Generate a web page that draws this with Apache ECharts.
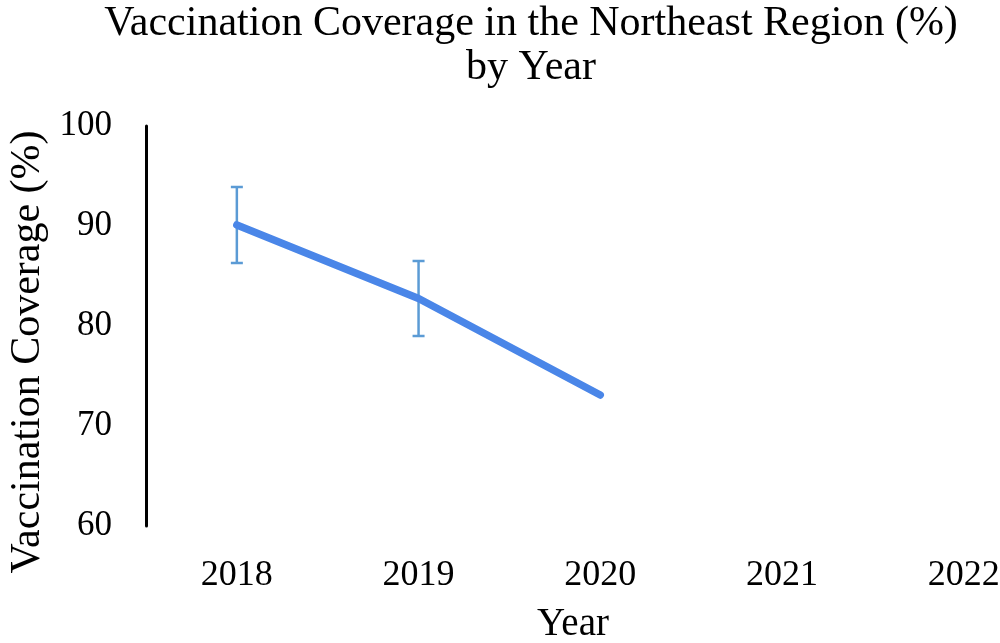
<!DOCTYPE html>
<html>
<head>
<meta charset="utf-8">
<script src="https://cdn.jsdelivr.net/npm/echarts@6/dist/echarts.min.js"></script>
<style>html,body{margin:0;padding:0;background:#fff}#c{width:1000px;height:643px}</style>
</head>
<body>
<div id="c"></div>
<script>
var years = [2018, 2019, 2020, 2021, 2022];
var coverage = [90.1, 82.75, 73.1];
var errLow = [86.3, 79.0];
var errHigh = [93.9, 86.5];
var yTicks = [60, 70, 80, 90, 100];

var lineData = [];
for (var i = 0; i < coverage.length; i++) lineData.push([years[i], coverage[i]]);
var errData = [];
for (var j = 0; j < errLow.length; j++) errData.push([years[j], errLow[j], errHigh[j]]);

var font = '"Liberation Serif", "Times New Roman", serif';
var chart = echarts.init(document.getElementById('c'));
chart.setOption({
  animation: false,
  title: {
    text: 'Vaccination Coverage in the Northeast Region (%)\nby Year',
    left: 526, top: -3, textAlign: 'center',
    textStyle: { fontFamily: font, fontSize: 42, fontWeight: 'normal', color: '#000', lineHeight: 44 }
  },
  grid: { left: 146, top: 126, right: 0, height: 400, containLabel: false, outerBoundsMode: 'none' },
  xAxis: {
    type: 'value', min: 2017.5, max: 2022.2, interval: 0.5,
    axisLine: { show: false }, axisTick: { show: false }, splitLine: { show: false },
    axisLabel: { fontFamily: font, fontSize: 36, color: '#000', margin: 32, showMinLabel: true, showMaxLabel: true,
      formatter: function (v) {
        var r = Math.round(v);
        return (Math.abs(v - r) < 1e-6 && years.indexOf(r) >= 0) ? String(r) : '';
      } },
    name: 'Year', nameLocation: 'middle', nameGap: 79,
    nameTextStyle: { fontFamily: font, fontSize: 39, color: '#000', padding: [0, 0, 0, 0] }
  },
  yAxis: {
    type: 'value', min: 60, max: 100, interval: 10,
    axisLine: { show: true, lineStyle: { color: '#000', width: 3 } },
    axisTick: { show: false }, splitLine: { show: false },
    axisLabel: { fontFamily: font, fontSize: 35, color: '#000', margin: 34,
      formatter: function (v) { return yTicks.indexOf(v) >= 0 ? String(v) : ''; } },
    name: 'Vaccination Coverage (%)', nameLocation: 'middle', nameGap: 96, nameRotate: 90,
    nameTextStyle: { fontFamily: font, fontSize: 42, color: '#000', padding: [0, 52, 0, 0] }
  },
  series: [
    {
      type: 'line', data: lineData, showSymbol: false, symbol: 'none',
      lineStyle: { color: '#4a86e8', width: 7.5, cap: 'round', join: 'round' },
      itemStyle: { color: '#4a86e8' }, z: 3
    },
    {
      type: 'custom', data: errData, z: 2,
      renderItem: function (params, api) {
        var x = api.value(0);
        var lo = api.coord([x, api.value(1)]);
        var hi = api.coord([x, api.value(2)]);
        var hw = 6;
        var st = { stroke: '#5b9bd5', lineWidth: 2.5 };
        return { type: 'group', children: [
          { type: 'line', shape: { x1: lo[0], y1: lo[1], x2: hi[0], y2: hi[1] }, style: st },
          { type: 'line', shape: { x1: lo[0] - hw, y1: lo[1], x2: lo[0] + hw, y2: lo[1] }, style: st },
          { type: 'line', shape: { x1: hi[0] - hw, y1: hi[1], x2: hi[0] + hw, y2: hi[1] }, style: st }
        ] };
      }
    }
  ]
});
</script>
</body>
</html>
